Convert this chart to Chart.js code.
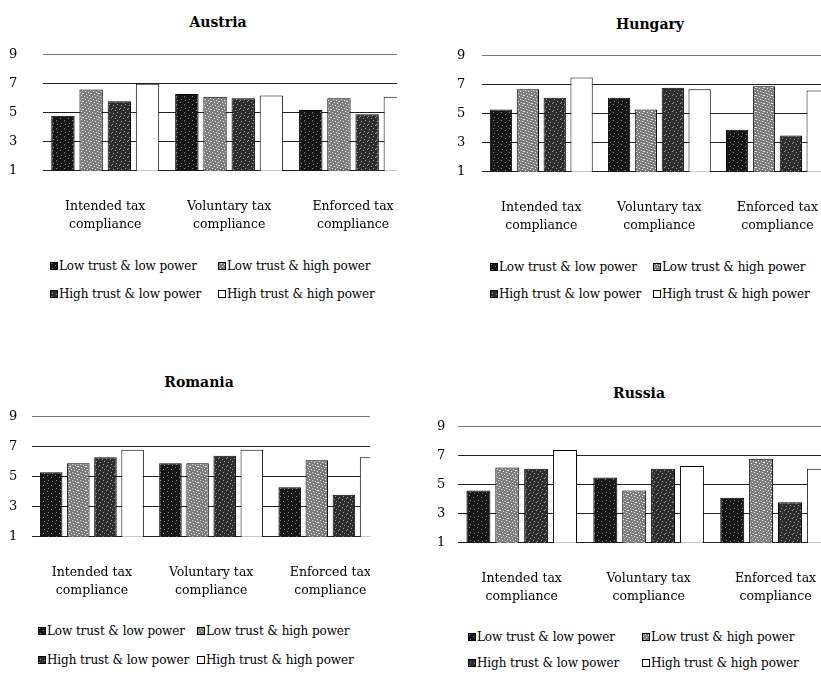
<!DOCTYPE html>
<html>
<head>
<meta charset="utf-8">
<script src="https://cdn.jsdelivr.net/npm/chart.js@4.4.1/dist/chart.umd.min.js"></script>
<style>
  body { margin: 0; width: 821px; height: 676px; overflow: hidden; position: relative; background: #fff; color: #000; font-family: "DejaVu Serif", serif; }
  .clip { position: absolute; overflow: hidden; }
  .clip canvas { position: absolute; max-width: none; }
  .title { position: absolute; font-size: 14px; font-weight: bold; white-space: nowrap; transform: translate(-50%, -50%); }
  .leg { position: absolute; font-size: 12px; letter-spacing: -0.1px; white-space: nowrap; transform: translateY(-50%); display: flex; align-items: center; }
  .leg canvas { margin-right: 1px; }
</style>
</head>
<body>
<script>
// categories / series / ticks
const categories = [["Intended tax", "compliance"], ["Voluntary tax", "compliance"], ["Enforced tax", "compliance"]];
const seriesNames = ["Low trust & low power", "Low trust & high power", "High trust & low power", "High trust & high power"];
const yTicks = [1, 3, 5, 7, 9];

// one row per series, one value per category
const austria = [[4.8, 6.3, 5.2], [6.6, 6.1, 6.0], [5.8, 6.0, 4.9], [7.0, 6.2, 6.1]];
const hungary = [[5.3, 6.1, 3.9], [6.7, 5.3, 6.9], [6.1, 6.8, 3.5], [7.5, 6.7, 6.6]];
const romania = [[5.3, 5.9, 4.3], [5.9, 5.9, 6.1], [6.3, 6.4, 3.8], [6.8, 6.8, 6.3]];
const russia = [[4.6, 5.5, 4.1], [6.2, 4.6, 6.8], [6.1, 6.1, 3.8], [7.4, 6.3, 6.1]];

const panels = [
  { name: "Austria", data: austria, plot: { left: 43, top: 55, right: 415, bottom: 171 }, clip: { x: 0, y: 40, w: 397, h: 195 },
    title: [218, 22], tickPad: 26, legRows: [266, 294], legCols: [50, 218] },
  { name: "Hungary", data: hungary, plot: { left: 482, top: 56, right: 836, bottom: 172 }, clip: { x: 440, y: 40, w: 381, h: 195 },
    title: [650, 24], tickPad: 17, legRows: [267, 294], legCols: [490, 653] },
  { name: "Romania", data: romania, plot: { left: 32, top: 417, right: 390, bottom: 537 }, clip: { x: 0, y: 400, w: 370, h: 200 },
    title: [199, 382], tickPad: 15, legRows: [631, 660], legCols: [38, 197] },
  { name: "Russia", data: russia, plot: { left: 458, top: 427, right: 839, bottom: 543 }, clip: { x: 425, y: 410, w: 396, h: 200 },
    title: [639, 393], tickPad: 13, legRows: [637, 663], legCols: [468, 642] },
];

// speckled fills like the scanned print
function speckle(base, light, dotColor) {
  const c = document.createElement("canvas");
  c.width = c.height = 8;
  const g = c.getContext("2d");
  g.fillStyle = base;
  g.fillRect(0, 0, 8, 8);
  g.fillStyle = dotColor;
  for (const [x, y] of light) g.fillRect(x, y, 1, 1);
  return c;
}
const tiles = [
  speckle("#161616", [[1, 1], [5, 3], [2, 6], [6, 7]], "#8a8a8a"),
  speckle("#7e7e7e", [[0, 0], [3, 1], [6, 2], [1, 3], [4, 4], [7, 5], [2, 6], [5, 7], [7, 0]], "#e8e8e8"),
  speckle("#2e2e2e", [[0, 1], [4, 0], [2, 3], [6, 4], [1, 6], [5, 7]], "#9a9a9a"),
  speckle("#ffffff", [], "#fff"),
];
const fills = tiles.map(t => t.getContext("2d").createPattern(t, "repeat"));

function fit(chart, p, clip) {
  for (let i = 0; i < 2; i++) {
    const a = chart.chartArea;
    chart.resize(Math.round(chart.width + (p.right - p.left) - (a.right - a.left)),
                 Math.round(chart.height + (p.bottom - p.top) - (a.bottom - a.top)));
  }
  const a = chart.chartArea;
  chart.canvas.style.left = (p.left - clip.x - a.left) + "px";
  chart.canvas.style.top = (p.top - clip.y - a.top) + "px";
}

function addLegend(panel) {
  seriesNames.forEach((name, i) => {
    const row = document.createElement("div");
    row.className = "leg";
    row.style.left = panel.legCols[i % 2] + "px";
    row.style.top = panel.legRows[Math.floor(i / 2)] + "px";
    const sw = document.createElement("canvas");
    sw.width = sw.height = 8;
    const g = sw.getContext("2d");
    g.fillStyle = g.createPattern(tiles[i], "repeat");
    g.fillRect(0, 0, 8, 8);
    g.strokeStyle = "#000";
    g.strokeRect(0.5, 0.5, 7, 7);
    row.appendChild(sw);
    row.appendChild(document.createTextNode(name));
    document.body.appendChild(row);
  });
}

for (const panel of panels) {
  const t = document.createElement("div");
  t.className = "title";
  t.textContent = panel.name;
  t.style.left = panel.title[0] + "px";
  t.style.top = panel.title[1] + "px";
  document.body.appendChild(t);

  const clip = document.createElement("div");
  clip.className = "clip";
  Object.assign(clip.style, { left: panel.clip.x + "px", top: panel.clip.y + "px", width: panel.clip.w + "px", height: panel.clip.h + "px" });
  const canvas = document.createElement("canvas");
  canvas.width = 420;
  canvas.height = 220;
  clip.appendChild(canvas);
  document.body.appendChild(clip);

  const chart = new Chart(canvas, {
    type: "bar",
    data: {
      labels: categories,
      datasets: seriesNames.map((name, i) => ({
        label: name,
        data: panel.data[i],
        backgroundColor: fills[i],
        borderColor: "#000",
        borderWidth: 1,
        borderSkipped: false,
        categoryPercentage: 0.91,
        barPercentage: 0.83,
      })),
    },
    options: {
      responsive: false,
      maintainAspectRatio: false,
      animation: false,
      layout: { padding: { top: 10, right: 0, bottom: 4, left: 4 } },
      plugins: { legend: { display: false }, tooltip: { enabled: false } },
      scales: {
        x: {
          grid: { display: false },
          border: { display: false },
          ticks: { color: "#000", font: { family: "DejaVu Serif", size: 12.5, lineHeight: 1.45 }, padding: 19, maxRotation: 0, autoSkip: false },
        },
        y: {
          min: 1,
          max: 9,
          afterBuildTicks: s => { s.ticks = yTicks.map(v => ({ value: v })); },
          ticks: { color: "#000", font: { family: "DejaVu Serif", size: 13 }, padding: panel.tickPad },
          grid: { color: c => (c.tick && c.tick.value === 9 ? "#777" : "#222"), drawTicks: false, lineWidth: 1 },
          border: { display: false },
        },
      },
    },
  });
  fit(chart, panel.plot, panel.clip);
  addLegend(panel);
}
</script>
</body>
</html>
